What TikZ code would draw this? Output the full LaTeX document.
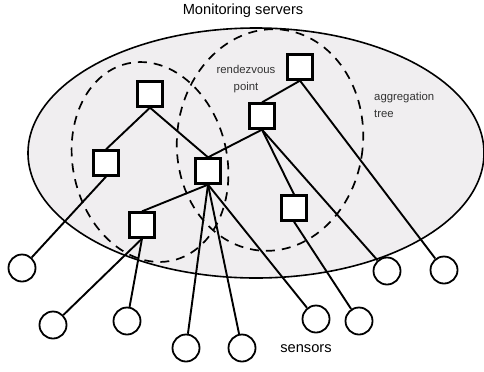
\documentclass[tikz,border=0pt]{standalone}
\usepackage{fontspec}
\setmainfont{Liberation Sans}
\usetikzlibrary{positioning,shapes}
\definecolor{cloudgray}{HTML}{F0EEF0}
\definecolor{notegray}{HTML}{333333}
\tikzset{
    %Define style for servers
    server/.style={
           rectangle,
           draw=black, line width=2.3bp,
           fill=white,
           minimum size=25bp,
           inner sep=0pt},
    %Define style for sensors
    sensor/.style={
           circle,
           draw=black, line width=1.8bp,
           fill=white,
           minimum size=27bp,
           inner sep=0pt},
    annot/.style={
           text=notegray,
           font=\fontsize{11.4}{17}\selectfont,
           inner sep=0pt},
    label/.style={
           font=\fontsize{14.7}{17}\selectfont,
           inner sep=0pt},
    % Define link style
    link/.style={
           line width=1.9bp},
    ring/.style={
           line width=1.7bp,
           dash pattern=on 9bp off 7bp}
}
\begin{document}
\begin{tikzpicture}[x=1bp,y=-1bp]
  \useasboundingbox (0,0) rectangle (484,371);

  % cloud of servers
  \draw[line width=1.6bp, fill=cloudgray] (256,153) ellipse [x radius=228, y radius=125];

  % the two aggregation trees
  \draw[ring, rotate around={13:(150,162)}] (150,162) ellipse [x radius=77, y radius=101];
  \draw[ring, rotate around={-6:(270,140)}] (270,140) ellipse [x radius=93, y radius=111];

  \node[server] (s1) at (150,94) {};
  \node[server] (s2) at (106,163) {};
  \node[server] (s3) at (208,171) {};
  \node[server] (s4) at (142,225) {};
  \node[server] (s5) at (262,116) {};
  \node[server] (s6) at (300,67) {};
  \node[server] (s7) at (294,208) {};

  \node[sensor] (c1) at (22,268) {};
  \node[sensor] (c2) at (53,325) {};
  \node[sensor] (c3) at (127,321) {};
  \node[sensor] (c4) at (186,348) {};
  \node[sensor] (c5) at (242,348) {};
  \node[sensor] (c6) at (316,319) {};
  \node[sensor] (c7) at (359,321) {};
  \node[sensor] (c8) at (387,271) {};
  \node[sensor] (c9) at (444,270) {};

  \draw[link] (s1.south) -- (s2.north);
  \draw[link] (s1.south) -- (s3.north);
  \draw[link] (s6.south) -- (s5.north);
  \draw[link] (s5.south) -- (s3.north);
  \draw[link] (s3.south) -- (s4.north);
  \draw[link] (s5.south) -- (s7.north);
  \draw[link] (s5.south) -- (c8);
  \draw[link] (s6.south) -- (c9);
  \draw[link] (s2.south) -- (c1);
  \draw[link] (s4.south) -- (c2);
  \draw[link] (s4.south) -- (c3);
  \draw[link] (s3.south) -- (c4);
  \draw[link] (s3.south) -- (c5);
  \draw[link] (s3.south) -- (c6);
  \draw[link] (s7.south) -- (c7);

  \node[label] (title) at (243,11) {Monitoring servers};
  \node[label] (sens) at (306,349) {sensors};
  \node[annot, align=center] (rdv) at (246,79.5) {rendezvous\\point};
  \node[annot, align=left, anchor=west] (aggr) at (374,105) {aggregation\\tree};
\end{tikzpicture}
\end{document}
